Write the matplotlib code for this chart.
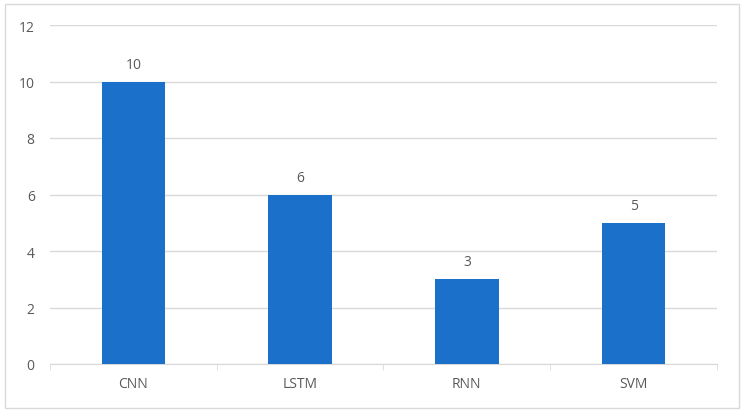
import matplotlib.pyplot as plt
from matplotlib.patches import Rectangle

models = ["CNN", "LSTM", "RNN", "SVM"]
counts = [10, 6, 3, 5]
y_ticks = [0, 2, 4, 6, 8, 10, 12]

bar_color = "#1b70c9"
grid_color = "#d9d9d9"
text_color = "#595959"

plt.rcParams['font.family'] = ['Open Sans', 'DejaVu Sans']

fig = plt.figure(figsize=(7.44, 4.14), dpi=100)
ax = fig.add_axes([50 / 744, 49 / 414, 667 / 744, 339 / 414])

x = list(range(len(models)))
bars = ax.bar(x, counts, width=0.38, color=bar_color, zorder=3)

for xi, v in zip(x, counts):
    ax.text(xi, v + 0.35, str(v), ha="center", va="bottom", fontsize=10, color=text_color)

ax.set_xlim(-0.5, len(models) - 0.5)
ax.set_ylim(0, 12)
ax.set_yticks(y_ticks)
ax.yaxis.grid(True, color=grid_color, linewidth=1, zorder=0)
ax.set_xticks(x)
ax.set_xticklabels(models)
ax.set_xticks([i - 0.5 for i in range(len(models) + 1)], minor=True)

ax.tick_params(axis="y", length=0, labelsize=10, colors=text_color, pad=11)
ax.tick_params(axis="x", which="major", length=0, labelsize=10, colors=text_color, pad=9)
ax.tick_params(axis="x", which="minor", length=4, color=grid_color, direction="out")

for s in ["top", "right", "left"]:
    ax.spines[s].set_visible(False)
ax.spines["bottom"].set_color(grid_color)

fig.patches.append(Rectangle((5 / 744, 5 / 414), 734 / 744, 404 / 414, transform=fig.transFigure,
                             fill=False, edgecolor=grid_color, linewidth=1))

fig.savefig("out.png", dpi=100)
